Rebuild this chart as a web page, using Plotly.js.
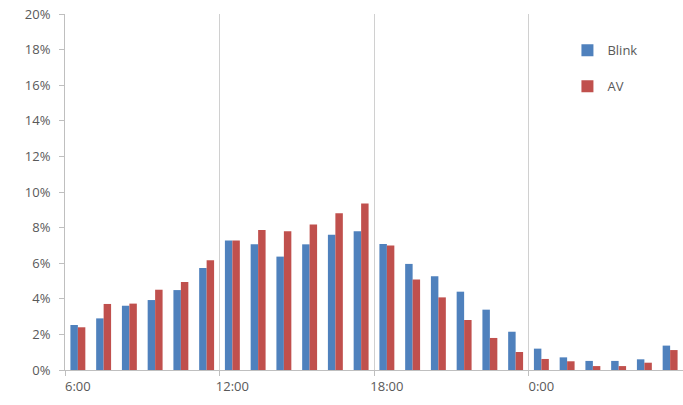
<!DOCTYPE html>
<html>
<head>
<meta charset="utf-8">
<script src="https://cdn.plot.ly/plotly-3.0.1.min.js"></script>
<style>html,body{margin:0;padding:0;background:#fff;}#chart{width:683px;height:405px;}</style>
</head>
<body>
<div id="chart"></div>
<script>
const hours = ["6:00","7:00","8:00","9:00","10:00","11:00","12:00","13:00","14:00","15:00","16:00","17:00",
               "18:00","19:00","20:00","21:00","22:00","23:00","0:00","1:00","2:00","3:00","4:00","5:00"];
const blink = [2.53,2.90,3.61,3.93,4.49,5.73,7.27,7.06,6.37,7.06,7.60,7.79,
               7.08,5.96,5.26,4.40,3.39,2.15,1.20,0.71,0.51,0.51,0.60,1.37];
const av    = [2.40,3.71,3.73,4.51,4.94,6.16,7.27,7.87,7.79,8.18,8.80,9.35,
               7.00,5.09,4.08,2.81,1.80,1.01,0.62,0.49,0.22,0.22,0.41,1.12];
const tickLabels = ["6:00","12:00","18:00","0:00"];
const tickIdx = [0,6,12,18];

const xs = hours.map((h,i)=>i);
const toFrac = a => a.map(v=>v/100);

const font = {family:"Open Sans, Noto Sans, sans-serif", size:13, color:"#595959"};

const data = [
  {type:"bar", name:"Blink", x:xs, y:toFrac(blink), marker:{color:"#4F81BD"}, legendgroup:"a", hoverinfo:"y"},
  {type:"bar", name:"AV", x:xs, y:toFrac(av), marker:{color:"#C0504D"}, legendgroup:"b", hoverinfo:"y"}
];

const layout = {
  width:683, height:405,
  margin:{l:65, r:0, t:14, b:35},
  paper_bgcolor:"#fff", plot_bgcolor:"#fff",
  font:font,
  barmode:"group", bargap:0.42, bargroupgap:0,
  showlegend:true,
  legend:{x:0.813, y:0.94, xanchor:"left", yanchor:"top", font:{family:font.family,size:13,color:"#595959"},
          tracegroupgap:16, bgcolor:"rgba(0,0,0,0)"},
  xaxis:{
    range:[-0.5,23.5], tickmode:"array", tickvals:tickIdx, ticktext:tickLabels,
    ticks:"", showgrid:false, zeroline:false,
    showline:true, linecolor:"#BFBFBF", linewidth:1,
    tickfont:font, ticklabelstandoff:4,
    minor:{tick0:-0.5, dtick:6, ticks:"outside", ticklen:5, tickcolor:"#BFBFBF", showgrid:true, gridcolor:"#D0D0D0", gridwidth:1}
  },
  yaxis:{
    range:[0,0.2], dtick:0.02, tickformat:".0%",
    ticks:"outside", ticklen:5, tickcolor:"#BFBFBF",
    showgrid:false, zeroline:false, showline:true, linecolor:"#BFBFBF", linewidth:1,
    tickfont:font, ticklabelstandoff:6
  }
};

Plotly.newPlot("chart", data, layout, {displayModeBar:false, staticPlot:true});
</script>
</body>
</html>
